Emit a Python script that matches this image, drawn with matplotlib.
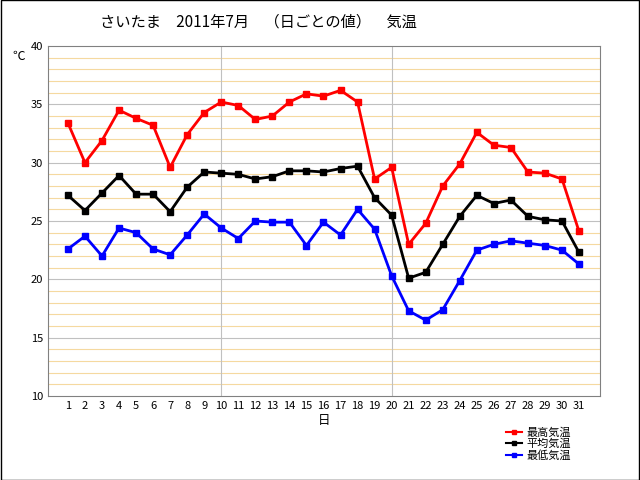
import matplotlib
matplotlib.use("Agg")
import matplotlib.pyplot as plt
from matplotlib.lines import Line2D
from matplotlib.patches import Rectangle

plt.rcParams['font.family'] = ['Noto Sans CJK JP', 'DejaVu Sans']

days = list(range(1, 32))
tmax = [33.4,30.0,31.9,34.5,33.8,33.2,29.6,32.4,34.3,35.2,34.9,33.7,34.0,35.2,35.9,35.7,36.2,35.2,
        28.6,29.6,23.0,24.8,28.0,29.9,32.6,31.5,31.3,29.2,29.1,28.6,24.1]
tavg = [27.2,25.9,27.4,28.9,27.3,27.3,25.8,27.9,29.2,29.1,29.0,28.6,28.8,29.3,29.3,29.2,29.5,29.7,
        27.0,25.5,20.1,20.6,23.0,25.4,27.2,26.5,26.8,25.4,25.1,25.0,22.3]
tmin = [22.6,23.7,22.0,24.4,24.0,22.6,22.1,23.8,25.6,24.4,23.5,25.0,24.9,24.9,22.9,24.9,23.8,26.0,
        24.3,20.3,17.3,16.5,17.4,19.9,22.5,23.0,23.3,23.1,22.9,22.5,21.3]
series = [("最高気温", tmax, "#ff0000"), ("平均気温", tavg, "#000000"), ("最低気温", tmin, "#0000ff")]

fig = plt.figure(figsize=(6.4, 4.8), dpi=100)
fig.patches.append(Rectangle((0.001, 0.001), 0.998, 0.998, transform=fig.transFigure,
                             fill=False, edgecolor='black', lw=1))
ax = fig.add_axes([48/640, 1-396/480, 552/640, 350/480])
ax.set_xlim(-0.17, 32.23)
ax.set_ylim(10, 40)
for y in range(11, 40):
    if y % 5:
        ax.axhline(y, color='#f5d9a0', lw=0.8, zorder=0)
for y in range(15, 40, 5):
    ax.axhline(y, color='#c0c0c0', lw=0.8, zorder=0)
for x in (10, 20):
    ax.axvline(x, color='#c0c0c0', lw=0.8, zorder=0)
for name, vals, c in series:
    ax.plot(days, vals, color=c, lw=2, marker='s', ms=5, label=name)
ax.set_xticks(days)
ax.set_yticks(range(10, 41, 5))
ax.tick_params(length=0, labelsize=8)
for s in ax.spines.values():
    s.set_color('#808080')
ax.set_xlabel('日', fontsize=9, labelpad=2)
fig.text(12/640, 1-56/480, '℃', fontsize=9, va='center')
fig.text(100/640, 1-22/480, 'さいたま　2011年7月　（日ごとの値）　気温', fontsize=11, va='center')
handles = [Line2D([], [], color=c, lw=1.5, marker='s', ms=2.5) for _, _, c in series]
fig.legend(handles, [n for n, _, _ in series], loc='upper left', bbox_to_anchor=(500/640, 1-422/480),
           frameon=False, fontsize=8, handlelength=1.5, labelspacing=0.05, borderpad=0, handletextpad=0.4)
fig.savefig('out.png')
